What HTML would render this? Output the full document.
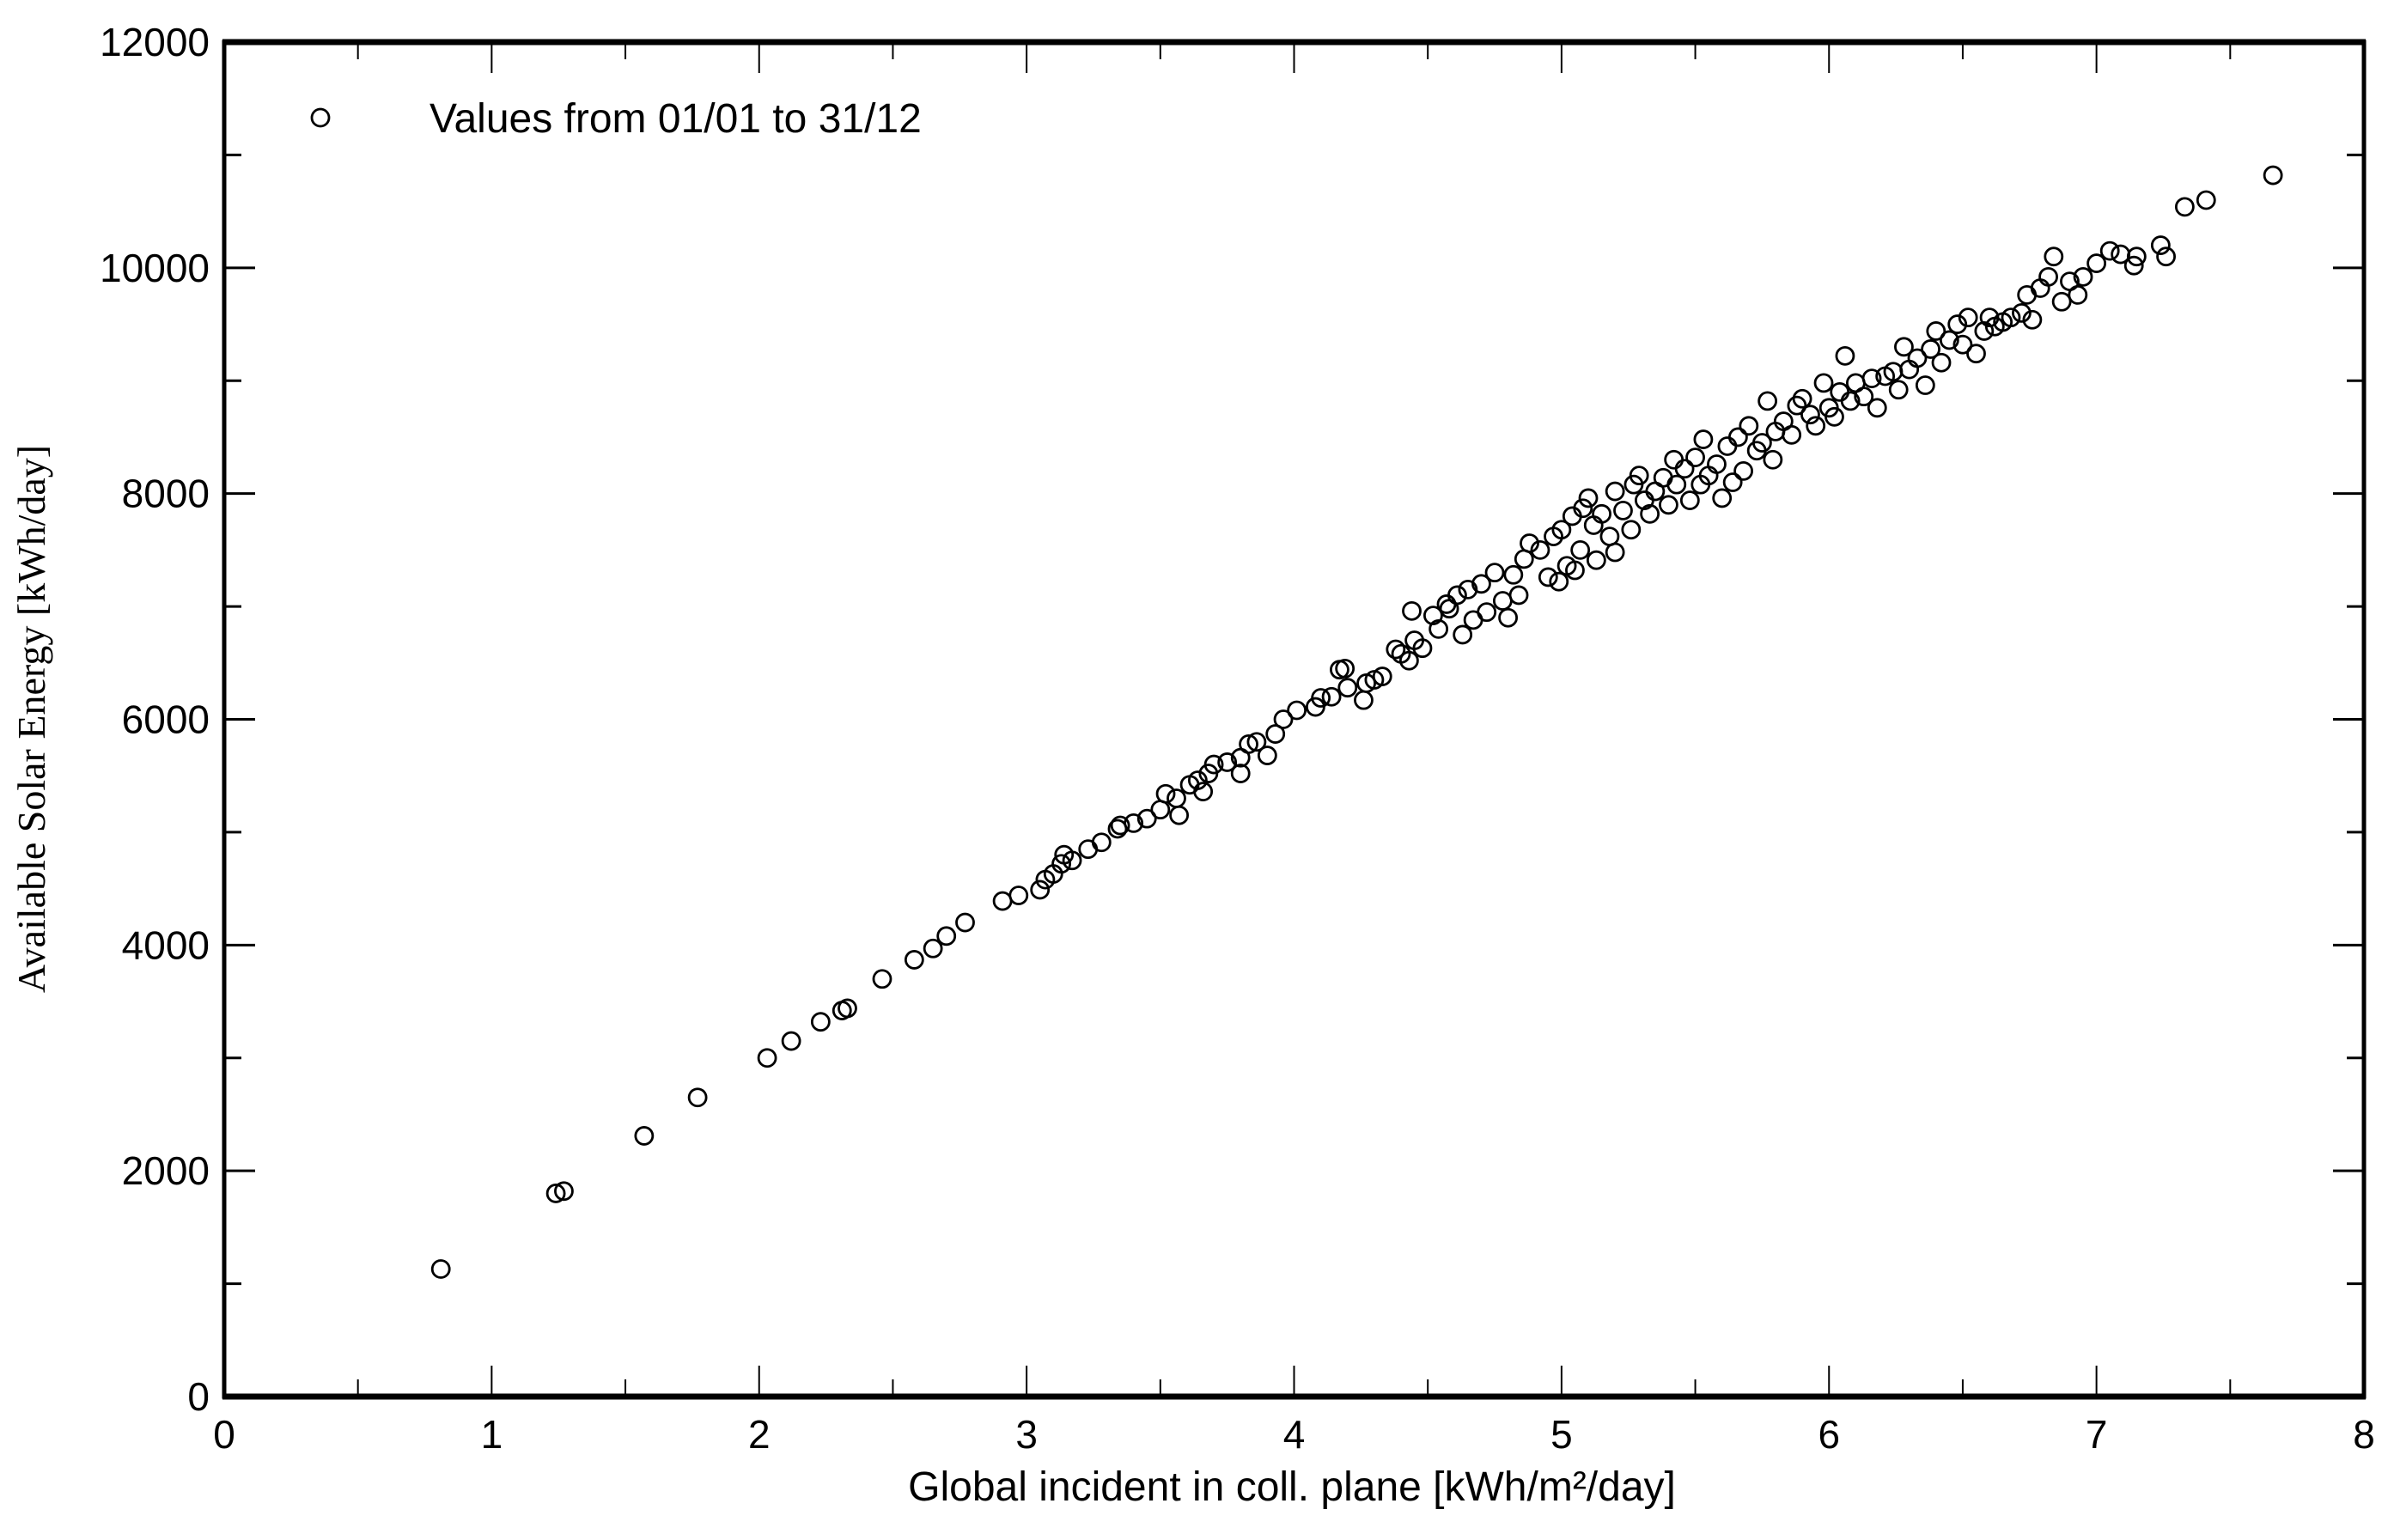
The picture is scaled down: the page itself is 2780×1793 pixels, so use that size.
<!DOCTYPE html>
<html><head><meta charset="utf-8"><style>
html,body{margin:0;padding:0;background:#fff;}
svg{display:block;}
text{font-family:"Liberation Sans",sans-serif;fill:#000;}
</style></head><body>
<svg id="chart" width="2780" height="1793" viewBox="0 0 2780 1793" xmlns="http://www.w3.org/2000/svg">
<g id="grid-ticks"></g>
<g id="points"></g>
<rect x="261" y="49" width="2491" height="1577" fill="none" stroke="#000" stroke-width="5"/>
<line x1="259" y1="1626" x2="2754" y2="1626" stroke="#000" stroke-width="7"/>
<line x1="259" y1="49" x2="2754" y2="49" stroke="#000" stroke-width="7"/>
<g id="xlabels"></g>
<g id="ylabels"></g>
<text x="1504" y="1747" font-size="48" text-anchor="middle">Global incident in coll. plane [kWh/m²/day]</text>
<text transform="translate(52,837) rotate(-90)" font-size="46" text-anchor="middle" style="font-family:'Liberation Serif',serif">Available Solar Energy [kWh/day]</text>
<g>
<circle cx="373" cy="137" r="10" fill="none" stroke="#000" stroke-width="2.8"/>
<text x="500" y="154" font-size="48">Values from 01/01 to 31/12</text>
</g>
</svg>
<script>
const xTicks=[0,1,2,3,4,5,6,7,8];
const yTicks=[0,2000,4000,6000,8000,10000,12000];
const xVals=[0.81,1.24,1.27,1.57,1.77,2.03,2.12,2.23,2.31,2.33,2.46,2.58,2.65,2.70,2.77,2.91,2.97,3.05,3.07,3.10,3.13,3.14,3.17,3.23,3.28,3.34,3.35,3.40,3.45,3.50,3.52,3.57,3.56,3.61,3.64,3.66,3.68,3.70,3.75,3.80,3.80,3.83,3.86,3.90,3.93,3.96,4.01,4.08,4.10,4.14,4.17,4.19,4.20,4.26,4.27,4.30,4.33,4.38,4.40,4.43,4.44,4.45,4.48,4.52,4.54,4.57,4.58,4.61,4.63,4.65,4.67,4.70,4.72,4.75,4.78,4.80,4.82,4.84,4.86,4.88,4.92,4.95,4.97,4.99,5.00,5.02,5.04,5.05,5.07,5.08,5.10,5.12,5.13,5.15,5.18,5.20,5.20,5.23,5.26,5.27,5.29,5.31,5.33,5.35,5.38,5.40,5.42,5.43,5.46,5.48,5.50,5.52,5.53,5.55,5.58,5.60,5.62,5.64,5.66,5.68,5.70,5.73,5.75,5.77,5.79,5.80,5.83,5.86,5.88,5.90,5.93,5.95,5.98,6.00,6.02,6.04,6.06,6.08,6.10,6.13,6.16,6.18,6.21,6.24,6.26,6.28,6.30,6.33,6.36,6.38,6.40,6.42,6.45,6.48,6.50,6.52,6.55,6.58,6.60,6.62,6.65,6.68,6.72,6.74,6.76,6.79,6.82,6.84,6.87,6.90,6.93,6.95,7.00,7.05,7.09,7.14,7.15,7.24,7.26,7.33,7.41,7.66];
const yVals=[1130,1800,1820,2310,2650,3000,3150,3320,3420,3440,3700,3870,3970,4080,4200,4390,4440,4490,4580,4630,4720,4800,4750,4850,4910,5030,5060,5080,5120,5200,5340,5150,5300,5420,5460,5360,5520,5600,5620,5520,5660,5780,5800,5680,5870,6000,6080,6110,6190,6200,6440,6450,6280,6170,6320,6350,6380,6620,6580,6520,6960,6700,6630,6920,6800,7020,6980,7100,6750,7150,6880,7200,6950,7300,7050,6900,7280,7100,7420,7560,7500,7260,7620,7220,7680,7360,7800,7320,7500,7870,7960,7720,7410,7820,7620,7480,8020,7850,7680,8080,8160,7940,7820,8020,8140,7900,8300,8080,8220,7940,8320,8080,8480,8160,8260,7960,8420,8100,8500,8200,8600,8380,8450,8820,8300,8550,8640,8520,8780,8840,8700,8600,8980,8760,8680,8900,9220,8820,8980,8860,9020,8760,9040,9080,8920,9300,9100,9200,8960,9280,9440,9160,9360,9500,9320,9560,9240,9440,9560,9480,9520,9560,9600,9760,9540,9820,9920,10100,9700,9880,9760,9920,10040,10150,10120,10020,10100,10200,10100,10540,10600,10820];
const NS='http://www.w3.org/2000/svg';
const L=261,R=2752,T=49,B=1626;
function sx(v){return L+(v/8)*(R-L);}
function sy(v){return B-(v/12000)*(B-T);}
function mk(tag,attrs,parent){const e=document.createElementNS(NS,tag);for(const k in attrs)e.setAttribute(k,attrs[k]);parent.appendChild(e);return e;}
const tg=document.getElementById('grid-ticks');
for(let i=0;i<=16;i++){const v=i*0.5;const x=sx(v);const len=(i%2===0)?36:20;
 const t1=mk('line',{x1:x,y1:B,x2:x,y2:B-len,stroke:'#000','stroke-width':2},tg);
 
 
 const t2=mk('line',{x1:x,y1:T,x2:x,y2:T+len,stroke:'#000','stroke-width':2},tg);
 
 }
for(let i=0;i<=12;i++){const v=i*1000;const y=sy(v);const len=(i%2===0)?36:20;
 const t1=mk('line',{x1:L,y1:y,x2:L+len,y2:y,stroke:'#000','stroke-width':3},tg);
 
 
 const t2=mk('line',{x1:R,y1:y,x2:R-len,y2:y,stroke:'#000','stroke-width':3},tg);
 
 }
const xl=document.getElementById('xlabels');
xTicks.forEach(v=>{const t=mk('text',{x:sx(v),y:B+60,'font-size':46,'text-anchor':'middle'},xl);t.textContent=v;
 
 });
const yl=document.getElementById('ylabels');
yTicks.forEach(v=>{const t=mk('text',{x:L-17,y:sy(v)+16,'font-size':46,'text-anchor':'end'},yl);t.textContent=v;
 
 });
const pg=document.getElementById('points');
xVals.forEach((v,i)=>{const c=mk('circle',{cx:sx(v),cy:sy(yVals[i]),r:10,fill:'none',stroke:'#000','stroke-width':2.8},pg);
 
 });
</script>
</body></html>
